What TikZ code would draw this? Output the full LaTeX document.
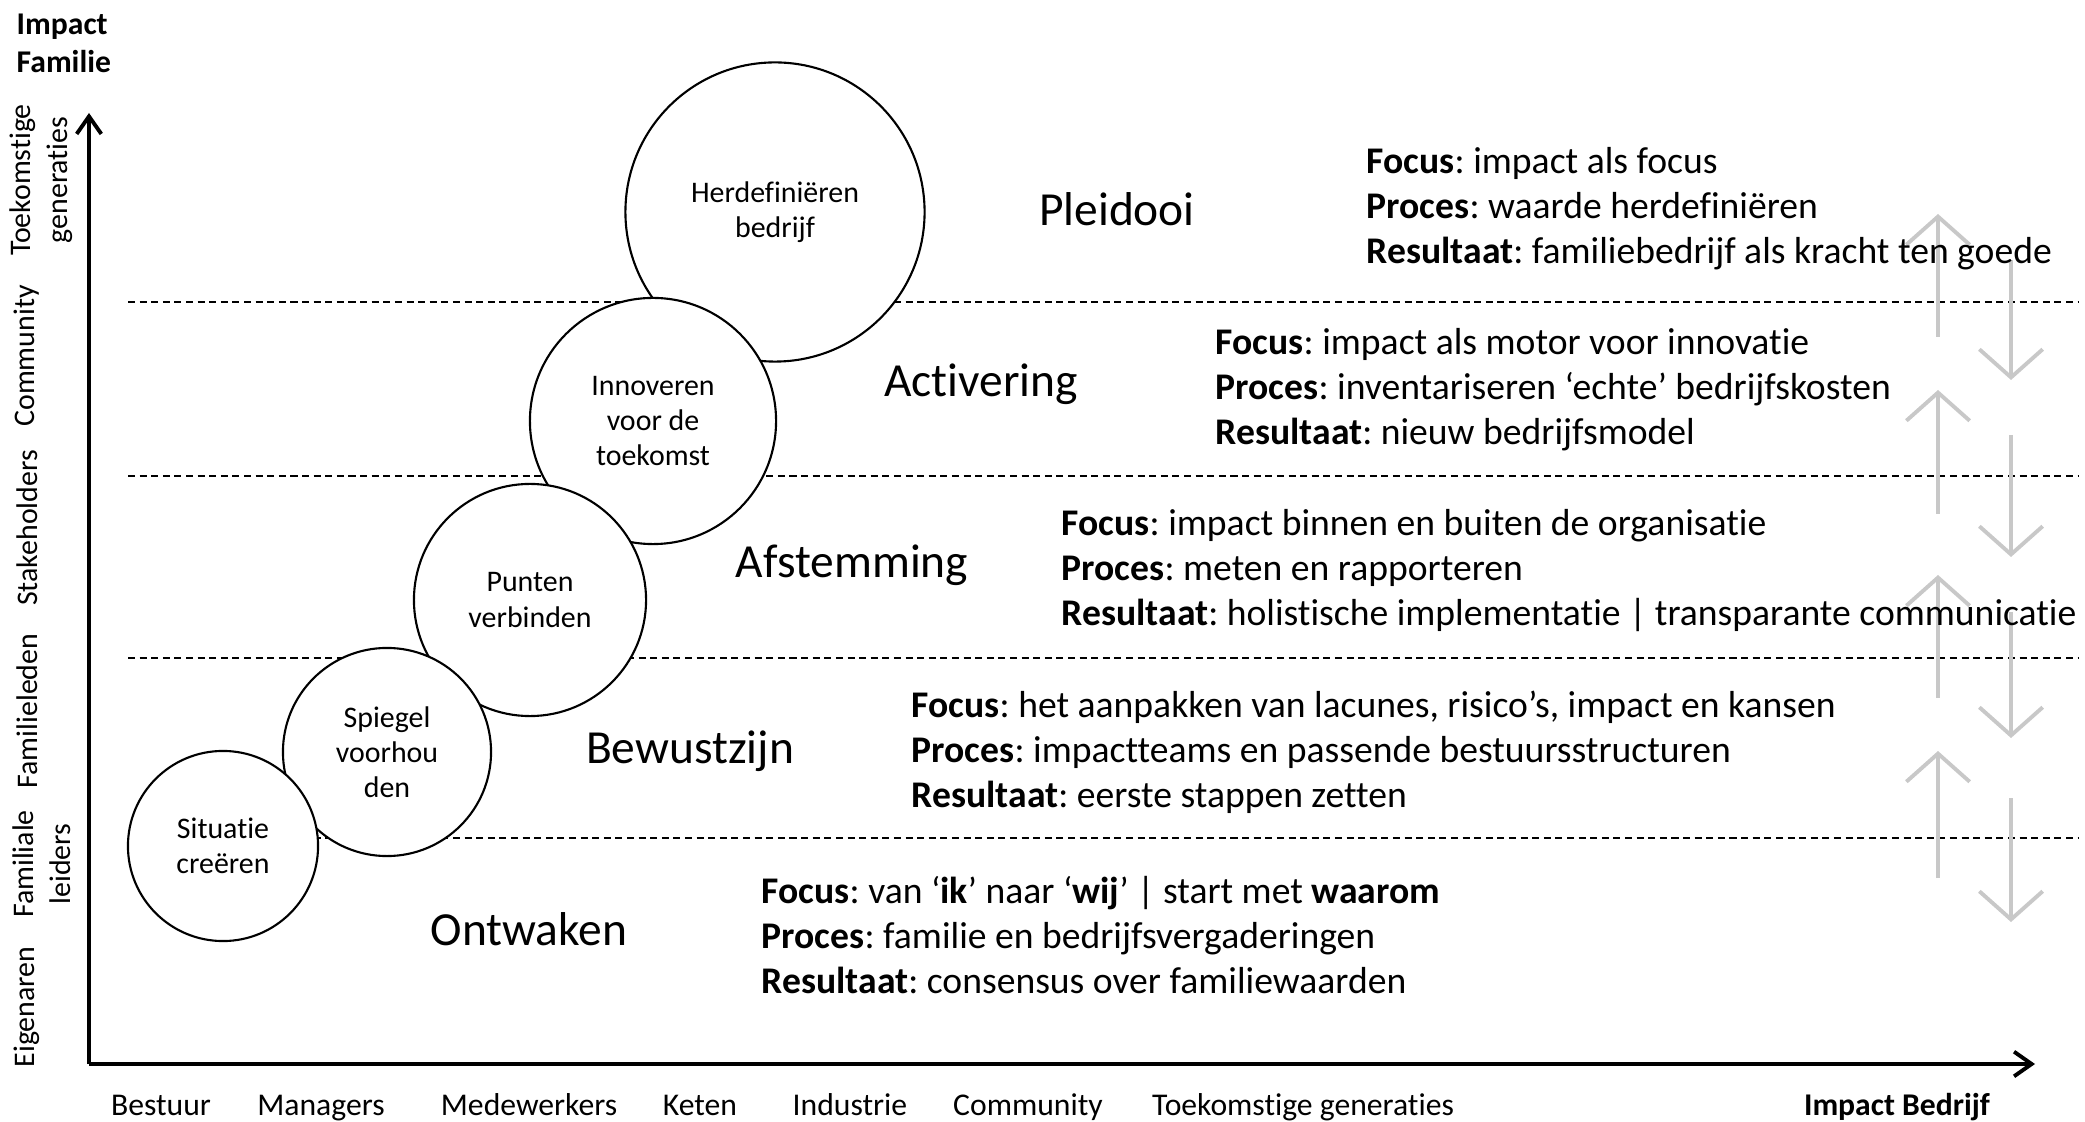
\documentclass[tikz,border=0pt]{standalone}
\usepackage{fontspec}
\setmainfont{Carlito}[Ligatures=NoCommon]
\usepackage{tikz}
\usetikzlibrary{arrows.meta}
\definecolor{pijl}{HTML}{C8C8C8}
\frenchspacing

\begin{document}
\begin{tikzpicture}[x=0.01cm,y=-0.01cm,
    fase/.style={circle,draw,fill=white,line width=0.6pt,inner sep=0pt,align=center,font=\fontsize{8.5}{10}\selectfont},
    niveau/.style={font=\fontsize{13.5}{16}\selectfont},
    uitleg/.style={anchor=west,align=left,inner sep=0pt,font=\fontsize{10.7}{12.8}\selectfont},
    zij/.style={rotate=90,align=center,inner sep=0pt,font=\fontsize{8.5}{10.5}\selectfont},
    onder/.style={inner sep=0pt,text height=1.5ex,text depth=0.3ex,font=\fontsize{9}{11}\selectfont},
    lijn/.style={line width=0.4pt,dash pattern=on 2pt off 1.3pt},
    grijs/.style={pijl,line width=1.1pt,-{Straight Barb[length=8pt,width=18pt]}},
    assen/.style={line width=1.1pt,-{Straight Barb[length=5pt,width=7pt]}}]
  \useasboundingbox (0,0) rectangle (2085,1122);

  \foreach \y in {302,476,658,838}
    \draw[lijn] (128,\y) -- (2078,\y);

  \foreach \a/\b in {214/337,390/514,575/698,751/878}
    \draw[grijs] (1938,\b) -- (1938,\a);
  \foreach \a/\b in {260/380,435/557,612/738,798/922}
    \draw[grijs] (2011,\a) -- (2011,\b);

  \path
    (775,212) node[fase,minimum size=2.99cm](herdef) {Herdefiniëren\\bedrijf}
    (653,421) node[fase,minimum size=2.46cm](innov) {Innoveren\\voor de\\toekomst}
    (530,600) node[fase,minimum size=2.32cm](punten) {Punten\\verbinden}
    (387,752) node[fase,minimum size=2.08cm](spiegel) {Spiegel\\voorhou\\den}
    (223,846) node[fase,minimum size=1.90cm](situatie) {Situatie\\creëren}
    ;

  \path
    (1117,209) node[niveau](pleidooi) {Pleidooi}
    (981,384) node[niveau](activering) {Activering}
    (852,565) node[niveau](afstemming) {Afstemming}
    (690,751) node[niveau](bewustzijn) {Bewustzijn}
    (529,929) node[niveau](ontwaken) {Ontwaken}
    ;

  \path
    (1366,209) node[uitleg](u5) {\textbf{Focus}: impact als focus\\
      \textbf{Proces}: waarde herdefiniëren\\
      \textbf{Resultaat}: familiebedrijf als kracht ten goede}
    (1215,390) node[uitleg](u4) {\textbf{Focus}: impact als motor voor innovatie\\
      \textbf{Proces}: inventariseren ‘echte’ bedrijfskosten\\
      \textbf{Resultaat}: nieuw bedrijfsmodel}
    (1061,571) node[uitleg](u3) {\textbf{Focus}: impact binnen en buiten de organisatie\\
      \textbf{Proces}: meten en rapporteren\\
      \textbf{Resultaat}: holistische implementatie | transparante communicatie}
    (911,752) node[uitleg](u2) {\textbf{Focus}: het aanpakken van lacunes, risico's, impact en kansen\\
      \textbf{Proces}: impactteams en passende bestuursstructuren\\
      \textbf{Resultaat}: eerste stappen zetten}
    (761,935) node[uitleg](u1) {\textbf{Focus}: van ‘\textbf{ik}’ naar ‘\textbf{wij}’ | start met \textbf{waarom}\\
      \textbf{Proces}: familie en bedrijfsvergaderingen\\
      \textbf{Resultaat}: consensus over familiewaarden}
    ;

  \path
    (16,43) node[anchor=west,align=left,inner sep=0pt,font=\bfseries\fontsize{9}{10.8}\selectfont](yas) {Impact\\Familie}
    (41,180) node[zij](z6) {Toekomstige\\generaties}
    (27,356) node[zij](z5) {Community}
    (27,528) node[zij](z4) {Stakeholders}
    (27,711) node[zij](z3) {Familieleden}
    (42,864) node[zij](z2) {Familiale\\leiders}
    (27,1007) node[zij](z1) {Eigenaren}
    ;

  \path
    (161,1105) node[onder](b1) {Bestuur}
    (321,1105) node[onder](b2) {Managers}
    (529,1105) node[onder](b3) {Medewerkers}
    (700,1105) node[onder](b4) {Keten}
    (850,1105) node[onder](b5) {Industrie}
    (1028,1105) node[onder](b6) {Community}
    (1303,1105) node[onder](b7) {Toekomstige generaties}
    (1897,1105) node[onder,font=\bfseries\fontsize{9}{11}\selectfont](xas) {Impact Bedrijf}
    ;

  \coordinate (O) at (89,1064);
  \coordinate (ytop) at (89,113);
  \coordinate (xeind) at (2035,1064);
  \draw[assen] (O) -- (ytop);
  \draw[assen] (O) -- (xeind);
\end{tikzpicture}
\end{document}
